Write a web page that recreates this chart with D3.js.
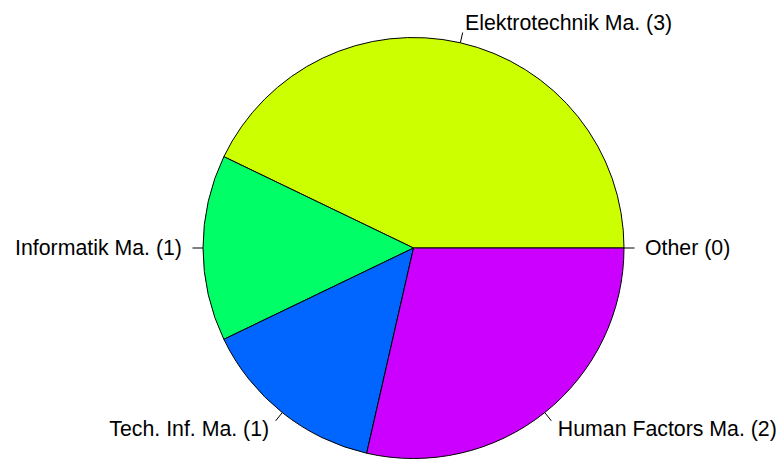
<html>
<script src='https://d3js.org/d3.v7.min.js'></script>
<style>
body { margin: 0; background-color: #ffffff; }
.label { font: 21.3px 'Liberation Sans', Arial, sans-serif; fill: #000; }
</style>
<body>
<script>
var labels = ["Other (0)", "Elektrotechnik Ma. (3)", "Informatik Ma. (1)", "Tech. Inf. Ma. (1)", "Human Factors Ma. (2)"];
var values = [0, 3, 1, 1, 2];
var colors = ["#FF0000", "#CCFF00", "#00FF66", "#0066FF", "#CC00FF"];

var width = 782, height = 459;
var cx = 413.5, cy = 248, r = 210.5;

var slices = labels.map(function(l, i) { return {label: l, value: values[i], color: colors[i]}; });

var svg = d3.select("body").append("svg")
    .attr("width", width)
    .attr("height", height);

var g = svg.append("g").attr("transform", "translate(" + cx + "," + cy + ")");

// R style: start at 3 o'clock, go counter-clockwise
var pie = d3.pie().sort(null).value(function(d) { return d.value; })
    .startAngle(Math.PI / 2).endAngle(Math.PI / 2 - 2 * Math.PI);

var arc = d3.arc().innerRadius(0).outerRadius(r);

var arcs = pie(slices);

g.selectAll(".slice")
    .data(arcs)
    .enter().append("path")
    .attr("class", "slice")
    .attr("d", arc)
    .style("fill", function(d) { return d.data.color; })
    .style("stroke", "#000")
    .style("stroke-width", 1)
    .style("stroke-linejoin", "round");

function pt(a, k) { return [Math.sin(a) * r * k, -Math.cos(a) * r * k]; }

arcs.forEach(function(d) {
  var a = (d.startAngle + d.endAngle) / 2;
  var p1 = pt(a, 1), p2 = pt(a, 1.05), p3 = pt(a, 1.1);
  g.append("line")
      .attr("x1", p1[0]).attr("y1", p1[1])
      .attr("x2", p2[0]).attr("y2", p2[1])
      .style("stroke", "#000").style("stroke-width", 1);
  g.append("text")
      .attr("class", "label")
      .attr("x", p3[0]).attr("y", p3[1])
      .attr("dy", "0.35em")
      .attr("text-anchor", Math.sin(a) < -1e-9 ? "end" : "start")
      .text(d.data.label);
});
</script>
</body>
</html>
